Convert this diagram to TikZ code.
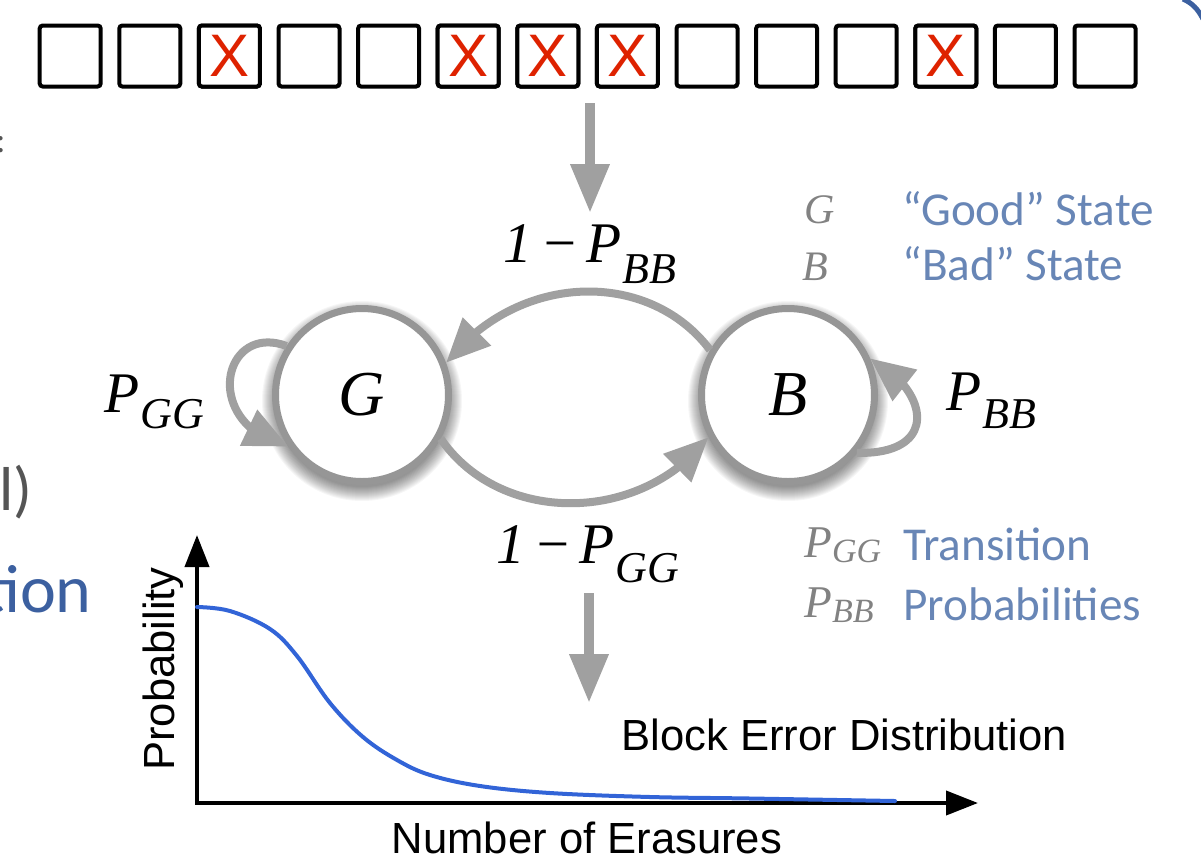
\documentclass[tikz,border=0pt]{standalone}
\usepackage{fontspec}
\setmainfont{Liberation Serif}
\newfontfamily\arialf{Liberation Sans}
\newfontfamily\calib{Carlito}
\usetikzlibrary{arrows.meta,bending}

\definecolor{arrowgray}{RGB}{160,160,160}
\definecolor{ringgray}{RGB}{150,150,150}
\definecolor{erasered}{RGB}{222,34,0}
\definecolor{legendblue}{RGB}{104,134,182}
\definecolor{labelgray}{RGB}{130,130,130}
\definecolor{curveblue}{RGB}{50,100,215}
\definecolor{slidegray}{RGB}{85,85,85}
\definecolor{slideblue}{RGB}{60,96,160}

\tikzset{
  cell/.style={draw=black, line width=2pt, rounded corners=1.5pt,
    minimum size=30.5pt, inner sep=0pt},
  erasure/.style={cell, text=erasered, font=\arialf\fontsize{30}{30}\selectfont},
  state/.style={circle, draw=ringgray, line width=3.5pt, fill=white,
    minimum size=86.5pt, inner sep=0pt, font=\itshape\fontsize{32}{32}\selectfont},
  flow/.style={draw=arrowgray, line width=5pt, -{Triangle[length=24.5pt, width=18.5pt]}},
  trans/.style={draw=arrowgray, line width=4pt, -{Triangle[length=22pt, width=19pt]}},
  problabel/.style={inner sep=0pt, anchor=base west, font=\itshape\fontsize{28.7}{30}\selectfont},
  legsym/.style={inner sep=0pt, anchor=base west, text=labelgray, font=\itshape\fontsize{21}{22}\selectfont},
  legtext/.style={inner sep=0pt, anchor=base west, text=legendblue, font=\calib\fontsize{23.6}{25}\selectfont},
  axislabel/.style={inner sep=0pt, font=\arialf\fontsize{21.8}{23}\selectfont},
  axis/.style={draw=black, line width=2pt, line join=miter},
}

\newcommand{\sbs}[3]{\raisebox{-#2}{\fontsize{#1}{#1}\selectfont #3}}

\begin{document}
\begin{tikzpicture}[x=0.5pt, y=-0.5pt]
\useasboundingbox (0,0) rectangle (1201,864);
\clip (0,0) rectangle (1201,864);

% edge of the slide frame
\draw[slideblue, line width=2.5pt] (1183,-1) .. controls (1192,3) and (1198,9) .. (1203,19);

% slide text cut off at the left border
\node[inner sep=0pt, anchor=base east, text=slidegray, font=\calib\fontsize{18}{18}\selectfont] (frag1) at (6,152) {:};
\node[inner sep=0pt, anchor=base west, text=slidegray, font=\calib\fontsize{31}{32}\selectfont] (frag2) at (-1,510) {l)};
\node[inner sep=0pt, anchor=base east, text=slideblue, font=\calib\fontsize{34}{35}\selectfont] (frag3) at (92,612) {tion};

% transmitted block, erased symbols marked
\foreach \i in {1,...,14} {
  \pgfmathsetmacro{\cx}{70.2+(\i-1)*79.6}
  \node[cell] (c\i) at (\cx,56) {};
}
\foreach \i in {3,6,7,8,12} {
  \node[erasure, fill=white] at (c\i) {X};
}

% input into the channel model
\coordinate (chanIn) at (590,103);
\coordinate (chanTop) at (590,213);
\draw[flow] (chanIn) -- (chanTop);

% soft shadows under the states
\foreach \cx in {362,788} {
  \foreach \r in {86,87,...,100} {
    \fill[black, opacity=0.035] (\cx,401) circle[radius=\r];
  }
}

% Gilbert-Elliott states
\node[state] (G) at (362,395) {G};
\node[state] (B) at (788,395) {B};

% transitions
\draw[trans] (B.150) .. controls (650,270) and (520,270) .. (G.21);
\draw[trans] (G.-29) .. controls (500,525) and (640,525) .. (B.208);
\draw[trans] (G.147) .. controls (222,322) and (200,425) .. (G.215);
\draw[trans] (B.-40) .. controls (940,455) and (930,390) .. (B.24);

% transition labels
\node[problabel] (lBB) at (503,262) {1\kern4pt−\kern4pt P\kern0.5pt\sbs{22}{10.5pt}{BB}};
\node[problabel] (lGG) at (496,563) {1\kern4pt−\kern4pt P\kern0.5pt\sbs{22}{9.5pt}{GG}};
\node[problabel] (sGG) at (104,412) {P\kern0.5pt\sbs{22}{8pt}{GG}};
\node[problabel] (sBB) at (946,410) {P\kern0.5pt\sbs{22}{9pt}{BB}};

% legend
\node[legsym] (kG) at (804,223) {G};
\node[legsym] (kB) at (802,280) {B};
\node[legtext] (tG) at (902,225) {“Good” State};
\node[legtext] (tB) at (902,280) {“Bad” State};
\node[legsym, font=\itshape\fontsize{22.7}{24}\selectfont] (kPG) at (804,557) {P\sbs{17}{2.5pt}{GG}};
\node[legsym, font=\itshape\fontsize{22.7}{24}\selectfont] (kPB) at (804,617) {P\sbs{17}{2.5pt}{BB}};
\node[legtext] (tT) at (903,560) {Transition};
\node[legtext] (tP) at (903,620) {Probabilities};

% output of the channel model
\coordinate (chanOut) at (589,593);
\coordinate (distTop) at (589,703);
\draw[flow] (chanOut) -- (distTop);
\node[axislabel, anchor=base west] (dist) at (621,750) {Block Error Distribution};

% distribution plot
\coordinate (O) at (197,803);
\coordinate (yTip) at (197,535);
\coordinate (xTip) at (978,803);
\draw[axis, {Triangle[length=16pt, width=12pt]}-{Triangle[length=16pt, width=12pt]}] (yTip) -- (O) -- (xTip);
\draw[curveblue, line width=2pt, line cap=round] plot[smooth, tension=0.6] coordinates {
  (197,607) (230,611) (270,629) (297,656) (330,703) (363,737) (397,760)
  (430,775) (480,786) (550,793) (650,797) (750,798.5) (895,801)};
\node[axislabel, anchor=base, rotate=90] (ylab) at (174,669) {Probability};
\node[axislabel, anchor=base] (xlab) at (587,853) {Number of Erasures};
\end{tikzpicture}
\end{document}
